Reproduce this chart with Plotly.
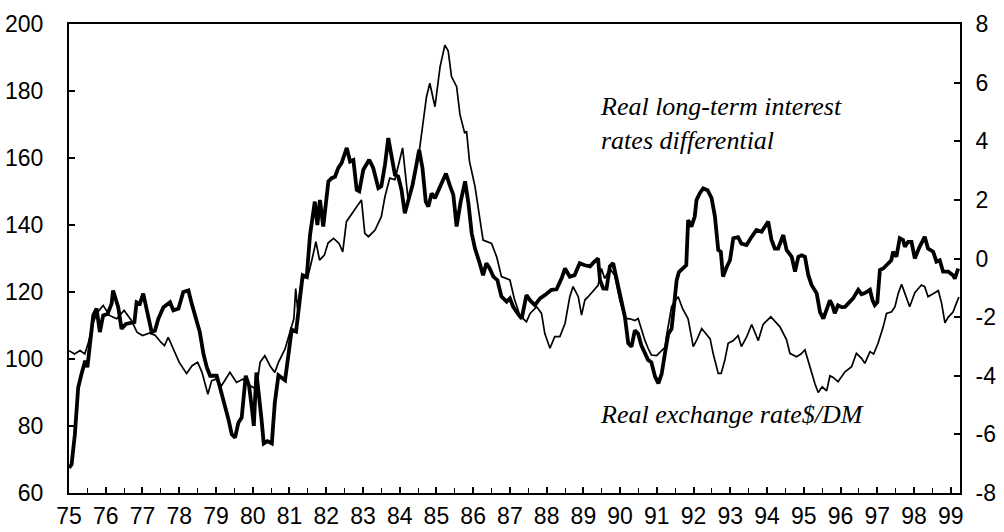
import plotly.graph_objects as go

# Real exchange rate $/DM (left axis, thin line)
fx_years = [75.00, 75.15, 75.30, 75.43, 75.53, 75.66, 75.78, 75.93, 76.10, 76.30, 76.50, 76.70, 76.85,
            77.00, 77.20, 77.35, 77.50, 77.60, 77.70, 77.85, 78.00, 78.20, 78.35, 78.50, 78.62, 78.78,
            78.88, 79.00, 79.15, 79.38, 79.56, 79.74, 79.93, 80.10, 80.20, 80.33, 80.47, 80.60, 80.70,
            80.88, 81.01, 81.12, 81.17, 81.22, 81.33, 81.50, 81.62, 81.72, 81.82, 81.95, 82.05, 82.20,
            82.35, 82.45, 82.55, 82.70, 82.88, 82.96, 83.05, 83.15, 83.33, 83.50, 83.60, 83.73, 83.87,
            83.96, 84.08, 84.23, 84.36, 84.55, 84.73, 84.82, 84.96, 85.10, 85.23, 85.32, 85.41, 85.55,
            85.64, 85.77, 85.82, 85.90, 86.05, 86.18, 86.27, 86.50, 86.64, 86.77, 86.91, 87.00, 87.12,
            87.27, 87.45, 87.55, 87.73, 87.86, 87.95, 88.09, 88.22, 88.36, 88.50, 88.63, 88.72, 88.86,
            88.95, 89.04, 89.13, 89.31, 89.40, 89.49, 89.58, 89.72, 89.85, 89.99, 90.13, 90.27, 90.40,
            90.49, 90.58, 90.67, 90.76, 90.85, 90.99, 91.13, 91.22, 91.26, 91.40, 91.50, 91.58, 91.70,
            91.85, 91.99, 92.10, 92.22, 92.35, 92.45, 92.53, 92.67, 92.75, 92.85, 92.94, 93.08, 93.21,
            93.30, 93.44, 93.58, 93.76, 93.89, 94.10, 94.22, 94.35, 94.53, 94.62, 94.80, 94.92, 95.03,
            95.16, 95.30, 95.39, 95.50, 95.62, 95.71, 95.80, 95.93, 96.12, 96.30, 96.43, 96.57, 96.66,
            96.80, 96.90, 97.02, 97.16, 97.25, 97.39, 97.48, 97.57, 97.66, 97.75, 97.88, 98.02, 98.20,
            98.29, 98.38, 98.52, 98.66, 98.75, 98.84, 98.93, 99.06, 99.15, 99.22]
fx_values = [102.5, 101.5, 102.5, 101.5, 105, 111, 114, 116, 113, 112, 114.5, 111.5, 108,
             107, 107.8, 107, 105, 104, 106.5, 102.5, 99, 95.7, 98, 99, 96, 89.5,
             93.5, 94, 92, 96, 93, 94, 92, 91, 99, 101, 98, 96, 99,
             103, 108, 112, 121, 115, 124, 124.5, 130, 135, 129.5, 131, 134.6, 136,
             134.5, 132, 141, 143.5, 146.5, 147.5, 137.5, 136.5, 138.5, 142.5, 148.5, 154, 153.5,
             157.4, 163, 147.5, 151.5, 163.4, 178.3, 182.3, 175.3, 187.3, 193.7, 192, 184.3, 181.3,
             173, 167.4, 168, 159, 151.5, 142, 135.5, 134.5, 130.5, 124.6, 124, 123.6, 118,
             113, 111.1, 113.6, 115.6, 113.6, 107.6, 103.2, 106.7, 106.7, 110.6, 118.6, 121.6, 118.6,
             113.1, 117.6, 118.6, 121.1, 122, 127, 124, 127, 125, 117.6, 112.1, 112, 111.5,
             112.1, 108.5, 105.7, 103.2, 101.2, 101, 102.7, 103.5, 106.7, 115.6, 117.5, 118.6, 115,
             112, 103.7, 106, 109.1, 107.5, 106, 101.7, 95.7, 95.7, 99.7, 104.7, 105.5, 107,
             103.7, 106.5, 110.3, 105.5, 110.3, 112.6, 111, 109.6, 105.7, 101.7, 100.7, 101.5, 102.7,
             97.7, 92.7, 90, 91.7, 90.5, 95, 94.5, 93.2, 96.2, 97.7, 101.7, 100.2, 98.7,
             102.2, 101.5, 104.7, 109.6, 113.6, 114.1, 115.6, 119.6, 122.3, 119.6, 115.6, 119.8, 122.1,
             121.6, 118.6, 119.5, 120.4, 116.6, 110.8, 112.5, 114, 116.6, 118.5]

# Real long-term interest rates differential (right axis, thick line)
ir_years = [75.00, 75.07, 75.16, 75.25, 75.34, 75.44, 75.50, 75.57, 75.66, 75.75, 75.84, 75.93, 76.05,
            76.16, 76.20, 76.34, 76.43, 76.55, 76.70, 76.78, 76.84, 76.93, 77.02, 77.11, 77.25, 77.34,
            77.43, 77.57, 77.75, 77.84, 77.98, 78.11, 78.25, 78.34, 78.47, 78.56, 78.66, 78.75, 78.84,
            78.93, 79.02, 79.11, 79.24, 79.34, 79.43, 79.52, 79.61, 79.70, 79.81, 79.90, 79.97, 80.03,
            80.10, 80.17, 80.24, 80.30, 80.40, 80.52, 80.60, 80.70, 80.80, 80.88, 80.97, 81.06, 81.18,
            81.29, 81.36, 81.47, 81.56, 81.69, 81.76, 81.83, 81.92, 82.06, 82.15, 82.24, 82.33, 82.42,
            82.56, 82.65, 82.74, 82.83, 82.90, 83.01, 83.17, 83.28, 83.42, 83.50, 83.60, 83.69, 83.78,
            83.87, 83.96, 84.05, 84.14, 84.23, 84.35, 84.44, 84.53, 84.62, 84.71, 84.78, 84.87, 84.96,
            85.09, 85.18, 85.26, 85.36, 85.46, 85.55, 85.66, 85.78, 85.87, 85.96, 86.05, 86.18, 86.27,
            86.36, 86.45, 86.55, 86.66, 86.77, 86.91, 87.00, 87.09, 87.23, 87.32, 87.45, 87.55, 87.68,
            87.82, 87.95, 88.13, 88.27, 88.41, 88.50, 88.63, 88.76, 88.90, 89.04, 89.18, 89.30, 89.40,
            89.45, 89.54, 89.63, 89.72, 89.81, 89.92, 90.04, 90.13, 90.22, 90.31, 90.40, 90.49, 90.58,
            90.67, 90.76, 90.85, 90.95, 91.04, 91.13, 91.22, 91.31, 91.40, 91.48, 91.54, 91.60, 91.72,
            91.80, 91.85, 91.94, 92.03, 92.08, 92.17, 92.26, 92.38, 92.49, 92.58, 92.67, 92.74, 92.80,
            92.90, 92.99, 93.08, 93.21, 93.30, 93.44, 93.58, 93.71, 93.85, 94.03, 94.12, 94.21, 94.30,
            94.44, 94.53, 94.67, 94.76, 94.85, 94.94, 95.03, 95.12, 95.21, 95.35, 95.44, 95.53, 95.62,
            95.71, 95.78, 95.84, 95.93, 96.03, 96.12, 96.25, 96.34, 96.48, 96.57, 96.66, 96.80, 96.87,
            96.93, 97.00, 97.07, 97.16, 97.29, 97.38, 97.43, 97.52, 97.61, 97.70, 97.75, 97.84, 97.93,
            98.02, 98.15, 98.29, 98.38, 98.52, 98.61, 98.70, 98.79, 98.93, 99.06, 99.11, 99.20]
ir_values = [-7.14, -7.03, -6.00, -4.40, -3.94, -3.49, -3.71, -2.80, -1.94, -1.71, -2.51, -1.94, -1.89,
             -1.54, -1.09, -1.66, -2.40, -2.23, -2.17, -2.17, -1.49, -1.54, -1.20, -1.71, -2.51, -2.46,
             -2.06, -1.66, -1.49, -1.77, -1.71, -1.14, -1.09, -1.54, -2.17, -2.51, -3.26, -3.71, -4.00,
             -4.00, -4.00, -4.40, -4.97, -5.49, -6.00, -6.11, -5.60, -5.43, -4.00, -4.34, -5.03, -5.71,
             -3.89, -4.57, -5.49, -6.31, -6.23, -6.31, -4.94, -3.98, -4.06, -4.15, -3.31, -2.43, -2.49,
             -1.31, -0.57, -0.63, 0.80, 1.94, 1.14, 2.00, 1.09, 2.63, 2.74, 2.79, 3.09, 3.26,
             3.77, 3.31, 3.36, 2.34, 2.29, 3.03, 3.37, 3.09, 2.40, 2.46, 3.20, 4.11, 3.43,
             2.86, 2.80, 2.34, 1.54, 1.94, 2.51, 3.09, 3.71, 3.09, 1.94, 1.77, 2.22, 2.06,
             2.40, 2.63, 2.90, 2.51, 2.17, 1.09, 1.94, 2.63, 1.89, 0.86, 0.34, -0.17, -0.57,
             -0.16, -0.34, -0.62, -0.74, -1.30, -1.47, -1.36, -1.65, -1.91, -2.05, -1.25, -1.43, -1.59,
             -1.36, -1.25, -1.07, -1.05, -0.67, -0.34, -0.62, -0.57, -0.16, -0.23, -0.27, -0.11, 0.00,
             -0.73, -1.02, -1.03, -0.27, -0.16, -0.80, -1.42, -1.99, -2.89, -3.01, -2.45, -2.57, -2.97,
             -3.23, -3.46, -3.54, -4.03, -4.26, -3.94, -3.23, -2.57, -2.40, -1.49, -0.73, -0.46, -0.33,
             -0.23, 1.31, 1.09, 1.43, 2.00, 2.23, 2.39, 2.33, 2.06, 1.43, 0.29, 0.23, -0.62,
             -0.29, -0.06, 0.69, 0.73, 0.51, 0.46, 0.74, 0.97, 0.91, 1.26, 0.63, 0.34, 0.34,
             0.80, 0.29, 0.06, -0.45, 0.06, 0.11, 0.06, -0.56, -0.90, -1.19, -1.83, -2.05, -1.77,
             -1.43, -1.60, -1.87, -1.60, -1.66, -1.65, -1.49, -1.36, -1.07, -1.22, -1.18, -1.07, -1.43,
             -1.59, -1.49, -0.39, -0.34, -0.16, -0.06, 0.23, 0.06, 0.69, 0.63, 0.40, 0.57, 0.57,
             0.00, 0.40, 0.74, 0.34, 0.23, -0.11, -0.06, -0.45, -0.45, -0.57, -0.69, -0.34]

year_ticks = list(range(75, 100))
year_labels = [str(y) for y in year_ticks]
right_ticks = [-8, -6, -4, -2, 0, 2, 4, 6, 8]
right_labels = ["-8", "-6", "-4", "-2", "0", "2", "4", "6", "8"]

fig = go.Figure()
fig.add_trace(go.Scatter(x=fx_years, y=fx_values, mode="lines",
                         line=dict(color="black", width=1.7),
                         name="Real exchange rate $/DM", yaxis="y"))
fig.add_trace(go.Scatter(x=ir_years, y=ir_values, mode="lines",
                         line=dict(color="black", width=3.8),
                         name="Real long-term interest rates differential", yaxis="y2"))

tick_font = dict(family="Liberation Sans, Arial, sans-serif", size=23, color="black")

fig.update_layout(
    width=1004, height=532,
    margin=dict(l=69, r=44, t=24, b=39, autoexpand=False),
    paper_bgcolor="white", plot_bgcolor="white",
    showlegend=False,
    xaxis=dict(range=[75, 99.25], tickvals=year_ticks, ticktext=year_labels,
               ticks="inside", ticklen=6, tickwidth=1.5, tickcolor="black",
               minor=dict(dtick=0.5, tick0=75, ticks="inside", ticklen=5, tickwidth=1.2, tickcolor="black"),
               showline=True, linewidth=2, linecolor="black", mirror=True,
               showgrid=False, zeroline=False, tickfont=tick_font, ticklabelstandoff=1,
               automargin=False),
    yaxis=dict(range=[60, 200], dtick=20, tick0=60,
               ticks="inside", ticklen=6, tickwidth=1.5, tickcolor="black",
               showline=True, linewidth=2, linecolor="black",
               showgrid=False, zeroline=False, tickfont=tick_font, ticklabelstandoff=19,
               automargin=False),
    yaxis2=dict(range=[-8, 8], tickvals=right_ticks, ticktext=right_labels,
                overlaying="y", side="right",
                ticks="inside", ticklen=6, tickwidth=1.5, tickcolor="black",
                showline=True, linewidth=2, linecolor="black",
                showgrid=False, zeroline=False, tickfont=tick_font, ticklabelstandoff=9,
                automargin=False),
)

ann_font = dict(family="Liberation Serif, Times New Roman, serif", size=26, color="black")
fig.add_annotation(x=89.4, y=170.3, xref="x", yref="y", xanchor="left", yanchor="middle",
                   text="<i>Real long-term interest<br>rates differential</i>",
                   showarrow=False, align="left", font=ann_font)
fig.add_annotation(x=89.4, y=83.3, xref="x", yref="y", xanchor="left", yanchor="middle",
                   text="<i>Real exchange rate$/DM</i>",
                   showarrow=False, align="left", font=ann_font)

fig.write_html("out.html", config={"displayModeBar": False},
               post_script="document.body.style.margin='0';")
